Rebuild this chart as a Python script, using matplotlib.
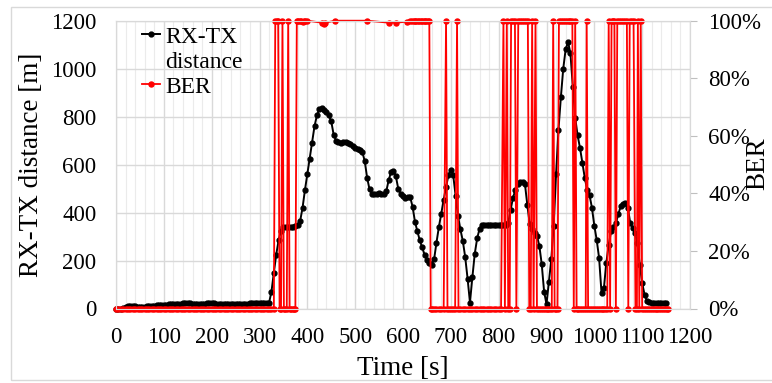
import numpy as np
import matplotlib
matplotlib.use('Agg')
import matplotlib.pyplot as plt
from matplotlib.lines import Line2D
from matplotlib.patches import Rectangle
from matplotlib.ticker import MultipleLocator, FuncFormatter

plt.rcParams['font.family'] = ['Liberation Serif', 'DejaVu Serif']

# RX-TX distance, one sample every 5 s (0 .. 1150 s)
time_s = np.arange(0, 1151, 5)
distance_m = [
    0, 0, 0, 2, 8, 9, 9, 9, 9, 8,
    8, 8, 8, 9, 10, 11, 12, 13, 14, 15,
    15, 16, 17, 18, 19, 20, 20, 20, 21, 21,
    21, 21, 20, 20, 20, 20, 20, 20, 21, 21,
    21, 21, 20, 20, 20, 20, 20, 20, 20, 20,
    20, 20, 20, 20, 20, 20, 21, 21, 21, 21,
    21, 21, 21, 21, 24, 70, 150, 225, 285, 325,
    338, 340, 340, 340, 340, 342, 348, 365, 420, 494,
    560, 625, 690, 760, 805, 830, 835, 828, 818, 805,
    780, 725, 700, 693, 692, 694, 693, 690, 685, 676,
    668, 664, 662, 652, 615, 545, 497, 479, 476, 479,
    481, 478, 476, 488, 535, 568, 575, 552, 500, 479,
    470, 460, 466, 464, 425, 362, 322, 285, 255, 225,
    203, 190, 182, 205, 275, 340, 395, 452, 508, 555,
    577, 555, 470, 385, 330, 282, 215, 125, 25, 130,
    228, 292, 332, 348, 350, 350, 350, 350, 350, 350,
    350, 350, 350, 350, 356, 412, 462, 495, 520, 528,
    527, 518, 430, 352, 332, 316, 302, 262, 185, 70,
    18, 110, 205, 345, 560, 745, 880, 1000, 1080, 1112,
    1065, 925, 795, 722, 670, 608, 545, 495, 472, 420,
    345, 285, 210, 65, 85, 190, 265, 322, 338, 356,
    392, 426, 437, 438, 420, 358, 335, 315, 272, 182,
    106, 58, 32, 26, 25, 25, 25, 25, 25, 25,
    25,
]

# BER samples (irregular times)
ber_time = [
    0, 5, 10, 15, 20, 25, 30, 35, 40, 45, 50, 55, 60, 65, 70, 75, 80, 85, 90, 95,
    100, 105, 110, 115, 120, 125, 130, 135, 140, 145, 150, 155, 160, 165, 170, 175, 180, 185, 190, 195,
    200, 205, 210, 215, 220, 225, 230, 235, 240, 245, 250, 255, 260, 265, 270, 275, 280, 285, 290, 295,
    300, 305, 310, 315, 320, 325, 330,
    333, 336, 339, 342, 345, 348, 351, 354, 357, 360, 363, 366, 369, 372, 375, 378,
    381, 384, 387, 390, 393, 396, 400, 431, 434, 437, 458, 525, 571, 586, 609, 615,
    619, 622, 625, 628, 631, 634, 637, 640, 643, 646, 649, 652, 655, 658,
    660, 665, 670, 675, 680, 685, 690, 693, 697, 701, 705, 709, 713, 716,
    720, 725, 730, 735, 740, 745, 750, 755, 760, 765, 770, 775, 780, 785, 790, 795, 800, 805,
    810, 813, 817, 820, 823, 826, 830, 834, 837, 841, 845, 849, 853, 857, 861, 864, 867, 870, 873, 877, 880,
    884, 888, 892, 896, 900, 904, 908, 911, 914, 917, 920, 923, 926, 930, 934, 938, 942, 946, 950, 954, 957, 960, 963,
    966, 970, 974, 978, 982, 984, 987, 991, 995, 999, 1003, 1007, 1011, 1015, 1019, 1023, 1027,
    1030, 1033, 1036, 1039, 1042, 1045, 1048, 1052, 1056, 1060, 1064, 1068, 1071, 1074, 1078, 1082, 1086, 1089,
    1091, 1094, 1097, 1100, 1104, 1108, 1112, 1116, 1120, 1124, 1128, 1132, 1136, 1140, 1144, 1148, 1152, 1155,
]
ber_value = [
    0, 0, 0, 0, 0, 0, 0, 0, 0, 0, 0, 0, 0, 0, 0, 0, 0, 0, 0, 0,
    0, 0, 0, 0, 0, 0, 0, 0, 0, 0, 0, 0, 0, 0, 0, 0, 0, 0, 0, 0,
    0, 0, 0, 0, 0, 0, 0, 0, 0, 0, 0, 0, 0, 0, 0, 0, 0, 0, 0, 0,
    0, 0, 0, 0, 0, 0, 0,
    1, 1, 1, 0, 0, 1, 0, 0, 0, 1, 0, 0, 0, 0, 0, 1,
    1, 1, 1, 0.995, 1, 1, 1, 0.993, 0.99, 0.993, 1, 1, 0.993, 0.993, 0.997, 1,
    1, 1, 1, 1, 1, 1, 1, 1, 1, 1, 1, 1, 1, 0,
    0, 0, 0, 0, 0, 0, 1, 0, 0, 0, 0, 0, 1, 0,
    0, 0, 0, 0, 0, 0, 0, 0, 0, 0, 0, 0, 0, 0, 0, 0, 0, 0,
    1, 0, 1, 0, 0, 1, 1, 1, 0, 1, 1, 1, 1, 1, 1, 0, 0, 1, 0, 1, 0,
    0, 0, 0, 0, 0, 0, 0, 0, 1, 0, 0, 0, 1, 1, 1, 1, 1, 1, 1, 1, 0, 1, 0,
    0, 0, 0, 0, 0, 1, 0, 0, 0, 0, 0, 0, 0, 0, 0, 0, 0,
    1, 0, 1, 1, 1, 0, 1, 1, 1, 1, 1, 1, 0, 1, 1, 1, 0, 0,
    1, 0, 1, 0, 0, 0, 0, 0, 0, 0, 0, 0, 0, 0, 0, 0, 0, 0,
]

x_ticks = np.arange(0, 1201, 100)
y_ticks = np.arange(0, 1201, 200)
ber_ticks = [0, 0.2, 0.4, 0.6, 0.8, 1.0]

grid_col = '#d9d9d9'

fig = plt.figure(figsize=(7.72, 3.83), dpi=100)

# light border round the whole chart
fig.patches.append(Rectangle((11 / 772, 3 / 383), 1.0, 1 - 10 / 383,
                             transform=fig.transFigure, fill=False,
                             edgecolor=grid_col, linewidth=1))

ax = fig.add_axes([116 / 772, 74.5 / 383, 574 / 772, 287.8 / 383])
ax.plot(time_s, distance_m, color='black', lw=1.4, marker='o', ms=3.5,
        zorder=3, clip_on=False)
ax.set_xlim(0, 1200)
ax.set_ylim(0, 1200)
ax.set_xticks(x_ticks)
ax.set_yticks(y_ticks)
ax.xaxis.set_minor_locator(MultipleLocator(20))
ax.grid(which='major', color=grid_col, lw=1)
ax.grid(which='minor', axis='x', color='#ebebeb', lw=0.8)
ax.set_axisbelow(True)
ax.tick_params(axis='both', which='both', length=0, labelsize=16.5)
ax.tick_params(axis='y', pad=14)
ax.tick_params(axis='x', pad=13)
for sp in ax.spines.values():
    sp.set_color(grid_col)
ax.set_xlabel('Time [s]', fontsize=19.5, labelpad=6)
ax.set_ylabel('RX-TX distance [m]', fontsize=19.5, labelpad=5)

ax2 = ax.twinx()
ax2.plot(ber_time, ber_value, color='#ff0000', lw=1.3, marker='o', ms=3.6,
         clip_on=False)
ax2.set_ylim(0, 1)
ax2.set_yticks(ber_ticks)
ax2.yaxis.set_major_formatter(FuncFormatter(lambda v, p: f'{v * 100:.0f}%'))
ax2.tick_params(axis='y', length=5, color='#bfbfbf', labelsize=16.5, pad=8)
for sp in ax2.spines.values():
    sp.set_color(grid_col)

fig.text(745 / 772, 1 - 164 / 383, 'BER', rotation=90, ha='left', va='center',
         fontsize=19.5)

h_dist = Line2D([], [], color='black', marker='o', ms=3.5, lw=1.4)
h_blank = Line2D([], [], color='none')
h_ber = Line2D([], [], color='#ff0000', marker='o', ms=3.6, lw=1.3)
fig.legend([h_dist, h_blank, h_ber], ['RX-TX', 'distance', 'BER'],
           loc='upper left', bbox_to_anchor=(142 / 772, 1 - 26 / 383),
           frameon=False, fontsize=17, handlelength=0.75, handletextpad=0.25,
           borderpad=0, borderaxespad=0, labelspacing=0.15)

fig.savefig('out.png', dpi=100)
